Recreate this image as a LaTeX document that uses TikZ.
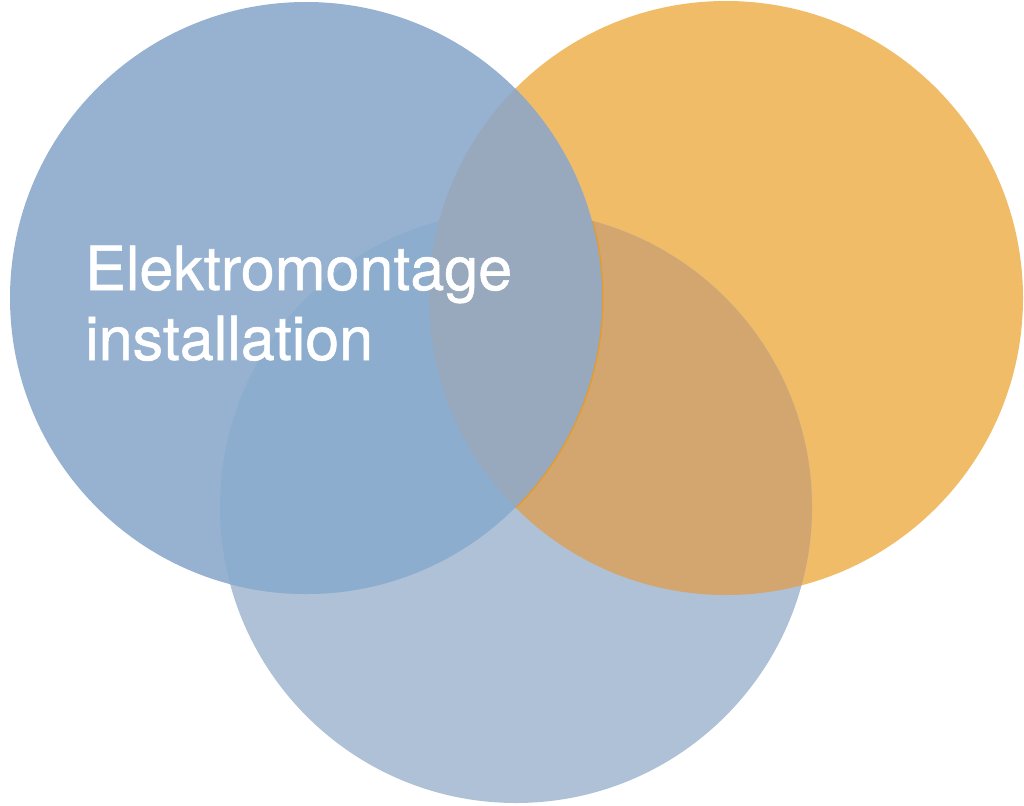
\documentclass[tikz,border=0pt]{standalone}
\usepackage{fontspec}
\setmainfont{TeX Gyre Heros}
\newfontfamily\labelfont[FakeBold=0.9]{TeX Gyre Heros}
\definecolor{leftonly}{HTML}{97B2D0}
\definecolor{orangeonly}{HTML}{F0BC67}
\definecolor{bottomonly}{HTML}{AEC1D7}
\definecolor{leftorange}{HTML}{98A9BE}
\definecolor{leftbottom}{HTML}{8CADCE}
\definecolor{orangebottom}{HTML}{D3A66F}
\definecolor{edgeorange}{HTML}{EC9A1E}
\tikzset{
  label text/.style={text=white, font=\labelfont\fontsize{61}{70}\selectfont, inner sep=0pt, anchor=base west},
}
\begin{document}
\begin{tikzpicture}[x=1pt,y=-1pt]
\useasboundingbox (0,0) rectangle (1024,805);
\coordinate (L) at (306,298);
\coordinate (O) at (726,298);
\coordinate (B) at (516,507);
\def\rL{296}\def\rO{297}\def\rB{296}
% orange circle
\fill[orangeonly] (O) circle (\rO);
% bottom circle
\fill[bottomonly] (B) circle (\rB);
\begin{scope}
  \clip (O) circle (\rO);
  \fill[orangebottom] (B) circle (\rB);
\end{scope}
% thin orange edge of left circle within orange/bottom overlap
\begin{scope}
  \clip (O) circle (\rO);
  \clip (B) circle (\rB);
  \draw[edgeorange, line width=3pt] (L) circle (\rL);
\end{scope}
% left circle
\fill[leftonly] (L) circle (\rL);
\begin{scope}
  \clip (L) circle (\rL);
  \fill[leftbottom] (B) circle (\rB);
  \fill[leftorange] (O) circle (\rO);
\end{scope}
\node[label text] (t1) at (85,290) {Elektromontage};
\node[label text] (t2) at (85,360) {installation};
\end{tikzpicture}
\end{document}
